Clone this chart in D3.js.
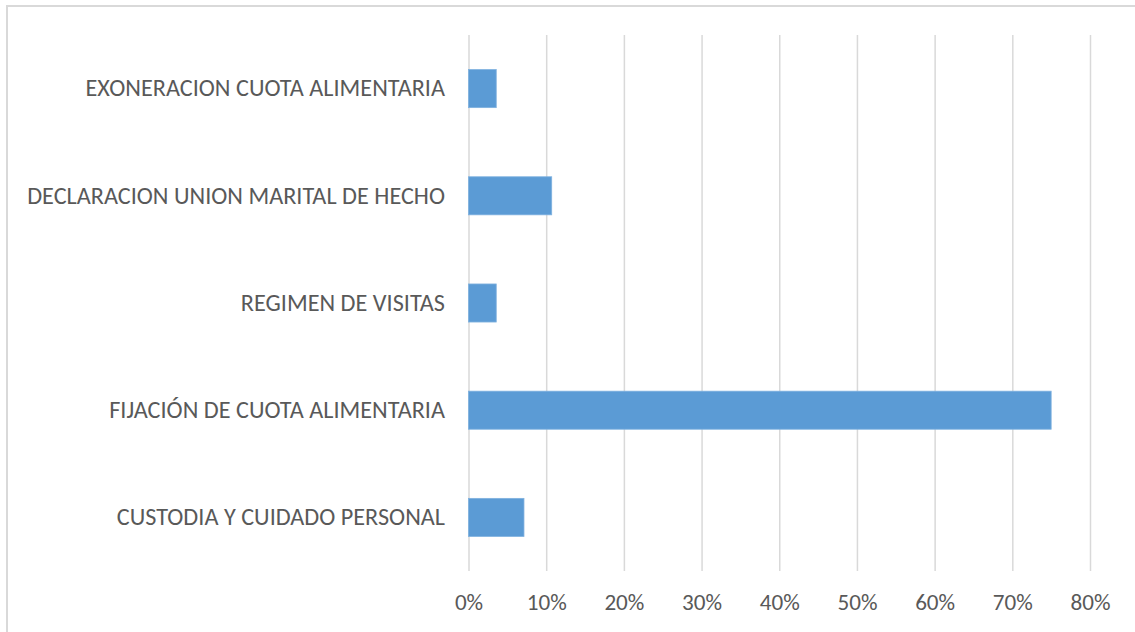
<!DOCTYPE html>
<html>
<head>
<meta charset="utf-8">
<script src="https://cdn.jsdelivr.net/npm/d3@7"></script>
<style>
  body { margin: 0; background: #fff; }
  svg { display: block; }
  .lbl { font-family: Carlito, Calibri, Lato, sans-serif; fill: #595959; }
</style>
</head>
<body>
<div class="chart"></div>
<script>
// categories, top to bottom as drawn
var categories = ['EXONERACION CUOTA ALIMENTARIA',
    'DECLARACION UNION MARITAL DE HECHO',
    'REGIMEN DE VISITAS',
    'FIJACIÓN DE CUOTA ALIMENTARIA',
    'CUSTODIA Y CUIDADO PERSONAL'];
var values = [0.0357, 0.1071, 0.0357, 0.75, 0.0714];
var tickValues = [0, 0.1, 0.2, 0.3, 0.4, 0.5, 0.6, 0.7, 0.8];

var w = 1135, h = 632;

var svg = d3.select('.chart').append('svg')
    .attr('width', w)
    .attr('height', h);

// outer chart frame (right/bottom run off the picture)
svg.append('rect')
    .attr('x', 7).attr('y', 6)
    .attr('width', w).attr('height', h)
    .style('fill', 'none')
    .style('stroke', '#d9d9d9')
    .style('stroke-width', 2);

var x = d3.scaleLinear().domain([0, 0.8]).range([468.5, 1090]);
var y = d3.scaleBand().domain(categories).range([35, 571])
    .paddingInner(0.645).paddingOuter(0.3225);

// vertical gridlines
svg.append('g')
    .attr('class', 'grid')
    .attr('transform', 'translate(0,571)')
    .call(d3.axisBottom(x).tickValues(tickValues).tickSize(-536).tickFormat(''))
    .call(function (g) {
        g.select('.domain').remove();
        g.selectAll('line').style('stroke', '#d9d9d9').style('stroke-width', 1.5);
    });

// bars
svg.selectAll('rect.bar')
    .data(values)
    .enter()
    .append('rect')
    .attr('class', 'bar')
    .attr('x', x(0))
    .attr('y', function (d, i) { return y(categories[i]); })
    .attr('width', function (d) { return x(d) - x(0); })
    .attr('height', y.bandwidth())
    .style('fill', '#5b9bd5')
    .style('stroke', '#7fb1df')
    .style('stroke-width', 0.8);

// x tick labels
var xAxis = svg.append('g')
    .attr('transform', 'translate(0,610)')
    .call(d3.axisBottom(x).tickValues(tickValues).tickSize(0).tickFormat(d3.format('.0%')));
xAxis.select('.domain').remove();
xAxis.selectAll('text')
    .attr('class', 'lbl')
    .attr('dy', 0)
    .attr('y', 0)
    .style('font-size', '24px');

// category labels
var cat = svg.append('g')
    .attr('transform', 'translate(445,0)')
    .call(d3.axisLeft(y).tickSize(0).tickPadding(0));
cat.select('.domain').remove();
cat.selectAll('text')
    .attr('class', 'lbl')
    .style('font-size', '24px');

// fit text sizes to the widths in the original
var longest = 0;
cat.selectAll('text').each(function () {
    longest = Math.max(longest, this.getComputedTextLength());
});
cat.selectAll('text').style('font-size', (24 * 418 / longest) + 'px');

var tw = xAxis.selectAll('text').filter(function (d) { return d === 0.8; }).node().getComputedTextLength();
xAxis.selectAll('text').style('font-size', (24 * 40 / tw) + 'px');
</script>
</body>
</html>
